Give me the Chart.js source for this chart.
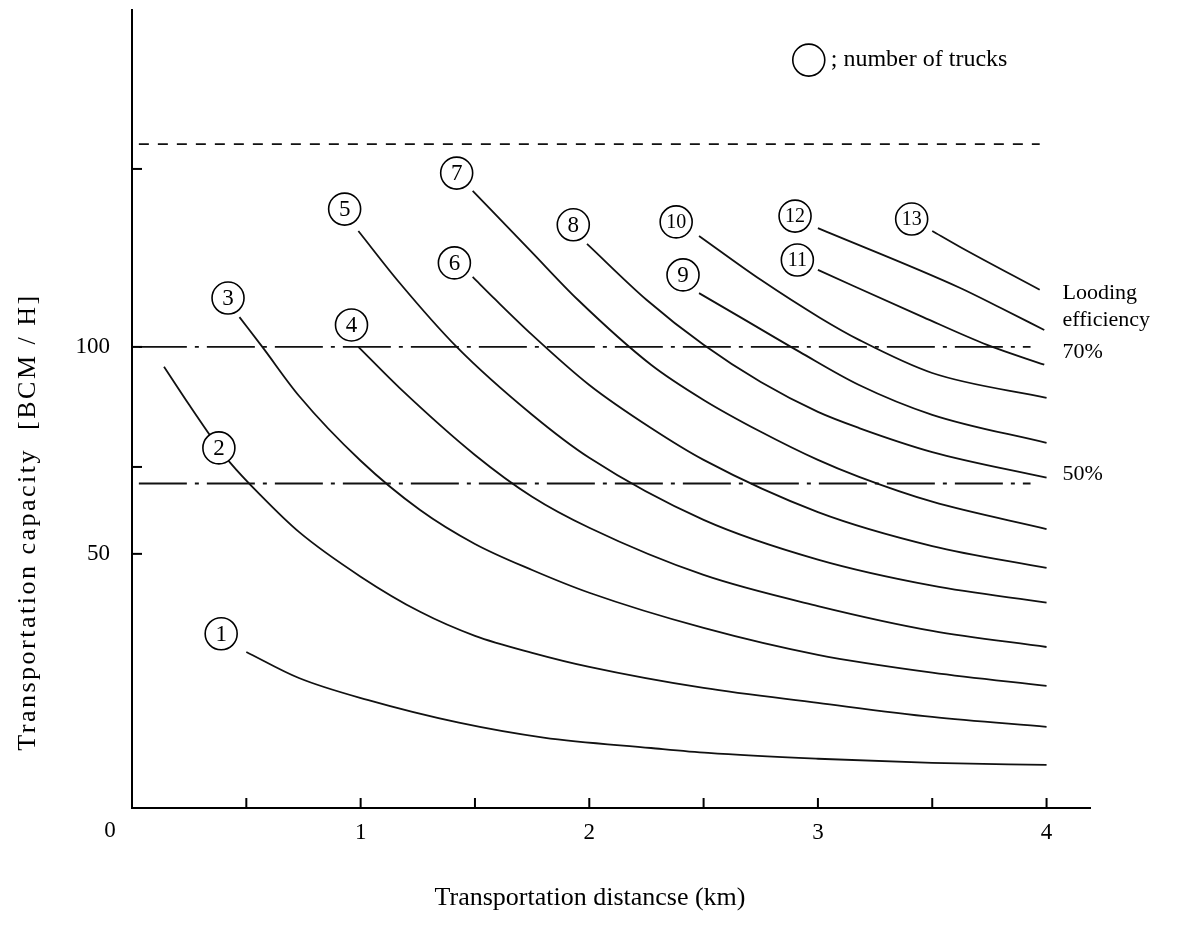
<!DOCTYPE html>
<html><head><meta charset="utf-8">
<script src="https://cdn.jsdelivr.net/npm/chart.js@4.4.1/dist/chart.umd.min.js"></script>
<style>html,body{margin:0;padding:0;background:#fff;}#c{display:block;}</style>
</head><body>
<canvas id="c" width="1178" height="932"></canvas>
<script>
// ---- axis ticks ----
const xTicks = [0, 0.5, 1, 1.5, 2, 2.5, 3, 3.5, 4];
const xTickLabels = ['', '', '1', '', '2', '', '3', '', '4'];
const yTicks = [50, 71, 100, 143];
const yTickLabels = ['50', '', '100', ''];

// ---- curves: transportation distance (km) vs capacity (BCM/H), per number of trucks ----
const trucks = ['1','2','3','4','5','6','7','8','9','10','11','12','13'];
const t1Dist = [0.50, 0.73, 1.03, 1.43, 1.80, 2.27, 2.52, 3.00, 3.50, 4.00];
const t1Cap  = [26.3, 20.0, 14.7, 9.2, 5.6, 3.1, 1.9, 0.5, -0.5, -1.0];
const t2Dist = [0.14, 0.25, 0.38, 0.43, 0.56, 0.73, 1.00, 1.26, 1.50, 1.75, 2.00, 2.50, 3.00, 3.50, 4.00];
const t2Cap  = [95.2, 86.0, 75.6, 72.0, 64.3, 55.3, 44.5, 36.0, 30.2, 26.1, 22.7, 17.6, 14.0, 10.6, 8.2];
const t3Dist = [0.47, 0.57, 0.73, 1.00, 1.26, 1.50, 1.75, 2.00, 2.50, 3.00, 3.50, 4.00];
const t3Cap  = [107.2, 100.0, 88.2, 72.5, 60.6, 52.4, 46.1, 40.6, 32.1, 25.6, 21.3, 18.1];
const t4Dist = [0.99, 1.17, 1.50, 1.75, 2.00, 2.50, 3.00, 3.50, 4.00];
const t4Cap  = [100.0, 90.1, 73.9, 63.8, 56.3, 44.9, 37.4, 31.4, 27.5];
const t5Dist = [0.99, 1.17, 1.42, 1.75, 2.00, 2.50, 3.00, 3.50, 4.00];
const t5Cap  = [128.0, 115.5, 100.0, 83.6, 73.2, 58.2, 48.6, 42.3, 38.2];
const t6Dist = [1.49, 1.59, 1.75, 2.00, 2.27, 2.50, 3.00, 3.50, 4.00];
const t6Cap  = [116.9, 111.4, 102.9, 90.8, 80.4, 72.7, 60.1, 51.9, 46.6];
const t7Dist = [1.49, 1.74, 1.95, 2.27, 2.50, 2.75, 3.00, 3.18, 3.50, 4.00];
const t7Cap  = [137.7, 123.4, 111.4, 95.7, 87.2, 79.5, 72.7, 68.6, 62.6, 56.0];
const t8Dist = [1.99, 2.25, 2.50, 2.75, 3.00, 3.18, 3.50, 4.00];
const t8Cap  = [124.9, 111.4, 100.5, 91.5, 84.3, 80.4, 74.6, 68.4];
const t9Dist = [2.48, 2.66, 2.92, 3.18, 3.50, 4.00];
const t9Cap  = [113.0, 107.2, 98.8, 90.8, 83.6, 76.8];
const t10Dist = [2.48, 2.75, 3.01, 3.18, 3.50, 4.00];
const t10Cap  = [126.8, 116.2, 107.0, 101.7, 93.7, 87.7];
const t11Dist = [3.00, 3.46, 3.74, 3.99];
const t11Cap  = [118.6, 107.2, 100.5, 95.7];
const t12Dist = [3.00, 3.62, 3.80, 3.99];
const t12Cap  = [128.7, 114.3, 109.4, 104.1];
const t13Dist = [3.50, 3.62, 3.97];
const t13Cap  = [128.0, 124.2, 113.8];

// circled truck-number labels (data coordinates)
const labelDist = [0.39, 0.38, 0.42, 0.96, 0.93, 1.41, 1.42, 1.93, 2.41, 2.38, 2.91, 2.90, 3.41];
const labelCap  = [30.7, 75.6, 111.8, 105.3, 133.3, 120.3, 142.0, 129.5, 117.4, 130.2, 121.0, 131.6, 130.9];

// loading-efficiency reference levels
const effLevels = [149, 100, 67];
const effNames  = ['100%', '70%', '50%'];
const effStart  = [0.03, 0.03, 0.03];
const effEnd    = [3.97, 3.93, 3.93];

const curveDist = [t1Dist,t2Dist,t3Dist,t4Dist,t5Dist,t6Dist,t7Dist,t8Dist,t9Dist,t10Dist,t11Dist,t12Dist,t13Dist];
const curveCap  = [t1Cap,t2Cap,t3Cap,t4Cap,t5Cap,t6Cap,t7Cap,t8Cap,t9Cap,t10Cap,t11Cap,t12Cap,t13Cap];

const SERIF = '"Liberation Serif", "DejaVu Serif", serif';

const datasets = [];
trucks.forEach((n, i) => {
  datasets.push({
    label: n + ' trucks',
    data: curveDist[i].map((d, k) => ({x: d, y: curveCap[i][k]})),
    borderColor: '#111', borderWidth: 1.8, pointRadius: 0,
    cubicInterpolationMode: 'monotone', fill: false
  });
});
effLevels.forEach((lv, i) => {
  datasets.push({
    label: 'efficiency ' + effNames[i],
    data: [{x: effStart[i], y: lv}, {x: effEnd[i], y: lv}],
    borderColor: '#111', borderWidth: 1.8, pointRadius: 0,
    borderDash: i === 0 ? [10, 9] : [48, 8, 4, 8], fill: false
  });
});

const decor = {
  id: 'decor',
  afterDatasetsDraw(chart) {
    const {ctx, chartArea: ca, scales: {x, y}} = chart;
    ctx.save();
    // inward tick marks
    ctx.strokeStyle = '#000'; ctx.lineWidth = 2;
    xTicks.forEach(v => {
      if (v === 0) return;
      const px = x.getPixelForValue(v);
      ctx.beginPath(); ctx.moveTo(px, ca.bottom); ctx.lineTo(px, ca.bottom - 10); ctx.stroke();
    });
    yTicks.forEach(v => {
      const py = y.getPixelForValue(v);
      ctx.beginPath(); ctx.moveTo(ca.left, py); ctx.lineTo(ca.left + 10, py); ctx.stroke();
    });
    // circled numbers
    ctx.lineWidth = 1.6;
    trucks.forEach((n, i) => {
      const cx = x.getPixelForValue(labelDist[i]);
      const cy = y.getPixelForValue(labelCap[i]);
      ctx.beginPath(); ctx.arc(cx, cy, 16, 0, Math.PI * 2);
      ctx.fillStyle = '#fff'; ctx.fill(); ctx.stroke();
      ctx.fillStyle = '#000';
      ctx.font = (n.length > 1 ? '20px ' : '23px ') + SERIF;
      ctx.textAlign = 'center'; ctx.textBaseline = 'middle';
      ctx.fillText(n, cx, cy + 1);
    });
    // legend
    const lx = x.getPixelForValue(2.96), ly = y.getPixelForValue(169.3);
    ctx.beginPath(); ctx.arc(lx, ly, 16, 0, Math.PI * 2); ctx.stroke();
    ctx.font = '24px ' + SERIF; ctx.textAlign = 'left'; ctx.textBaseline = 'middle';
    ctx.fillText('; number of trucks', lx + 22, ly);
    // efficiency labels
    const tx = x.getPixelForValue(4.07);
    ctx.font = '22px ' + SERIF;
    ctx.fillText('Looding', tx, y.getPixelForValue(113));
    ctx.fillText('efficiency', tx, y.getPixelForValue(106.5));
    ctx.fillText(effNames[1], tx, y.getPixelForValue(98.8));
    ctx.fillText(effNames[2], tx, y.getPixelForValue(69.3));
    // origin label
    ctx.textAlign = 'center';
    ctx.font = '23px ' + SERIF;
    ctx.fillText('0', ca.left - 22, ca.bottom + 23);
    // axis titles
    ctx.font = '26px ' + SERIF;
    ctx.fillText('Transportation distancse (km)', 590, 898);
    ctx.translate(28, 522); ctx.rotate(-Math.PI / 2);
    ctx.letterSpacing = '2.5px';
    ctx.fillText('Transportation capacity  [BCM / H]', 0, 0);
    ctx.restore();
  }
};

new Chart(document.getElementById('c'), {
  type: 'line',
  data: {datasets},
  options: {
    responsive: false, animation: false,
    layout: {padding: {top: 10, right: 88, bottom: 0, left: 0}},
    plugins: {legend: {display: false}, tooltip: {enabled: false}},
    scales: {
      x: {
        type: 'linear', min: 0, max: 4.19,
        afterBuildTicks: s => { s.ticks = xTicks.map(v => ({value: v})); },
        afterFit: s => { s.height = 124; s.paddingLeft = 0; s.paddingRight = 0; },
        ticks: {
          callback: (v, i) => xTickLabels[i],
          color: '#000', font: {family: SERIF, size: 23}, padding: 11, maxRotation: 0, autoSkip: false
        },
        grid: {display: false, drawTicks: false},
        border: {display: true, color: '#000', width: 2}
      },
      y: {
        type: 'linear', min: -11.4, max: 181.4,
        afterBuildTicks: s => { s.ticks = yTicks.map(v => ({value: v})); },
        afterFit: s => { s.width = 132; s.paddingTop = 0; s.paddingBottom = 0; },
        ticks: {
          callback: (v, i) => yTickLabels[i],
          color: '#000', font: {family: SERIF, size: 23}, padding: 22, autoSkip: false
        },
        grid: {display: false, drawTicks: false},
        border: {display: true, color: '#000', width: 2}
      }
    }
  },
  plugins: [decor]
});
</script>
</body></html>
